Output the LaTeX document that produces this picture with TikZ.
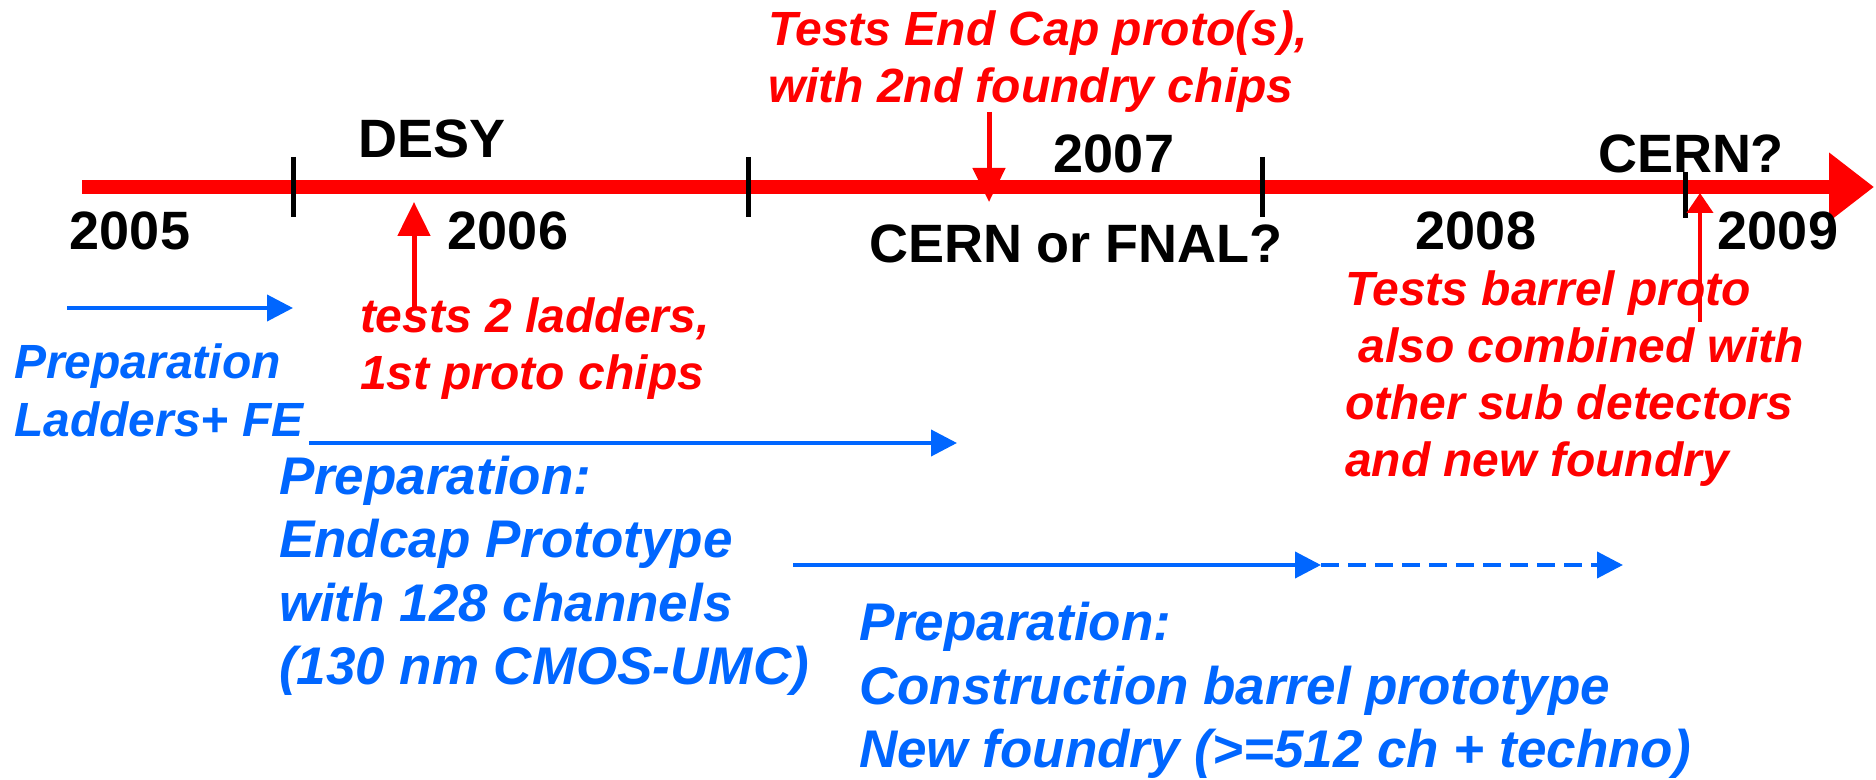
\documentclass[tikz,border=0pt]{standalone}
\usepackage{fontspec}
\setmainfont{Liberation Sans}
\usetikzlibrary{arrows.meta}
\definecolor{prepblue}{RGB}{0,102,255}
\tikzset{
  yearlabel/.style={font=\fontsize{27}{32}\selectfont\bfseries, text=black, anchor=base},
  redtext/.style={font=\fontsize{24}{28.5}\selectfont\bfseries\itshape, text=red, align=left, anchor=base west},
  bluetext/.style={font=\fontsize{24}{29}\selectfont\bfseries\itshape, text=prepblue, align=left, anchor=base west},
  bigbluetext/.style={font=\fontsize{26.5}{31.8}\selectfont\bfseries\itshape, text=prepblue, align=left, anchor=base west},
  yeartick/.style={draw=black, line width=2.5pt, line cap=butt},
  redarrow/.style={draw=red, line width=2.5pt, -{Triangle[length=17pt, width=16pt]}},
  thinredarrow/.style={draw=red, line width=2pt, -{Triangle[length=10pt, width=13pt]}},
  bluearrow/.style={draw=prepblue, line width=2pt, -{Triangle[length=13pt, width=13pt]}},
}
\begin{document}
\begin{tikzpicture}[y=0.5pt, x=0.5pt, yscale=-1, inner sep=0pt, outer sep=0pt]
\useasboundingbox (0,0) rectangle (1876,780);
    \coordinate (tlstart) at (82,187);
    \coordinate (tlend) at (1874,187);
    \draw[red, line width=7pt, -{Triangle[length=22.5pt, width=33pt]}] (tlstart) -- (tlend);
    \node[yearlabel] (text2005) at (130,250) {2005};
    \node[yearlabel] (textdesy) at (432,158) {DESY};
    \node[yearlabel] (text2006) at (508,250) {2006};
    \node[yearlabel] (text2007) at (1114,173) {2007};
    \node[yearlabel] (textcernfnal) at (1076,263) {CERN or FNAL?};
    \node[yearlabel] (text2008) at (1476,250) {2008};
    \node[yearlabel] (textcern) at (1691,173) {CERN?};
    \node[yearlabel] (text2009) at (1778,250) {2009};
    \foreach \tx in {293,748,1262}
      \draw[yeartick] (\tx,157) -- (\tx,217);
    \draw[yeartick] (1685,172) -- (1685,218);
    \node[redtext] (textendcap) at (768,103) {Tests End Cap proto(s),\\with 2nd foundry chips};
    \node[redtext] (textladders) at (360,390) {tests 2 ladders,\\1st proto chips};
    \node[redtext] (textbarrel) at (1345,477) {Tests barrel proto\\\ also combined with\\other sub detectors\\and new foundry};
    \coordinate (endcaptail) at (989,112);
    \coordinate (endcaptip) at (989,202);
    \coordinate (ladderstail) at (414,308);
    \coordinate (ladderstip) at (414,202);
    \coordinate (barreltail) at (1700,322);
    \coordinate (barreltip) at (1700,193);
    \draw[redarrow] (endcaptail) -- (endcaptip);
    \draw[redarrow] (ladderstail) -- (ladderstip);
    \draw[thinredarrow] (barreltail) -- (barreltip);
    \node[bluetext] (textprepladders) at (14,437) {Preparation\\Ladders+ FE};
    \node[bigbluetext] (textprependcap) at (279,685) {Preparation:\\Endcap Prototype\\with 128 channels\\(130 nm CMOS-UMC)};
    \node[bigbluetext] (textprepbarrel) at (859,768) {Preparation:\\Construction barrel prototype\\New foundry (>=512 ch + techno)};
    \coordinate (prepladdersstart) at (67,308);
    \coordinate (prepladdersend) at (293,308);
    \coordinate (prependcapstart) at (309,443);
    \coordinate (prependcapend) at (957,443);
    \coordinate (prepbarrelstart) at (793,565);
    \coordinate (prepbarrelmid) at (1321,565);
    \coordinate (prepbarrelend) at (1623,565);
    \draw[bluearrow] (prepladdersstart) -- (prepladdersend);
    \draw[bluearrow] (prependcapstart) -- (prependcapend);
    \draw[bluearrow] (prepbarrelstart) -- (prepbarrelmid);
    \draw[bluearrow, dash pattern=on 9pt off 4.5pt] (prepbarrelmid) -- (prepbarrelend);
\end{tikzpicture}
\end{document}
